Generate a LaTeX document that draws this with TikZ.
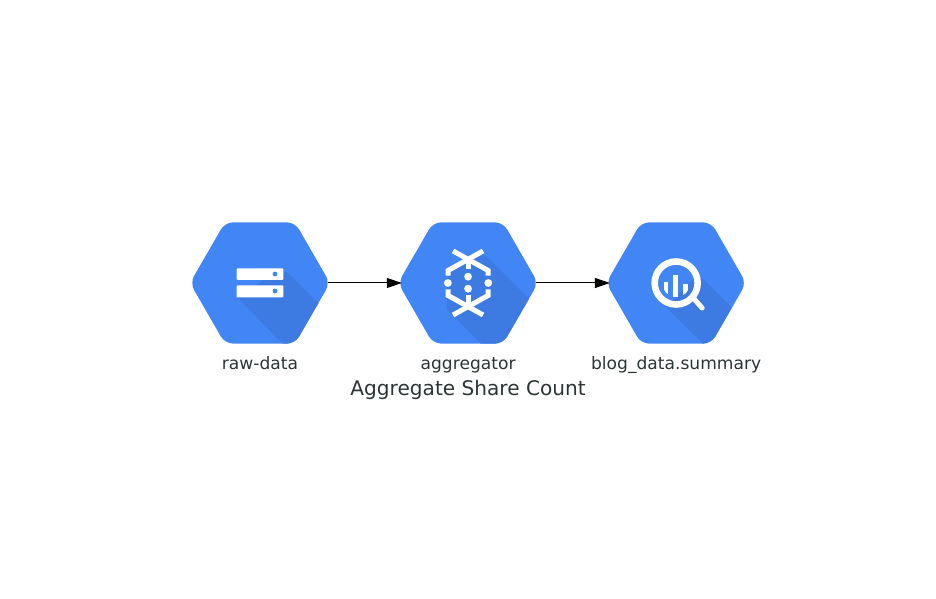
\documentclass[tikz,border=0pt]{standalone}
\usepackage{fontspec}
\setmainfont{DejaVu Sans}
\usetikzlibrary{positioning, shapes.geometric, graphs, arrows.meta}
\definecolor{hexblue}{HTML}{4285F4}
\definecolor{hexshade}{HTML}{3D7BE3}
\definecolor{textgray}{HTML}{2D3436}
\tikzset{
    hexnode/.style={regular polygon, regular polygon sides=6,
        minimum size=140pt, inner sep=0pt, fill=hexblue, rounded corners=8pt,
        path picture={\fill[hexshade, shift={(path picture bounding box.center)}] #1;}},
    hexlabel/.style={font=\fontsize{17.1}{20}\selectfont, text=textgray, inner sep=0pt,
        text height=12.5pt, text depth=4pt},
    iconstroke/.style={draw=white, line width=5pt, line join=miter},
}
\begin{document}
\begin{tikzpicture}[x=1pt, y=1pt, node distance=67.6pt, >={Triangle[length=15pt, width=10pt]}]
    \useasboundingbox (0,0) rectangle (936,599);

    \node[hexnode={(-23,-14) -- (23,15) -- (80,-42) -- (90,-90) -- (52,-90) -- (-23,-14)}] at (260,316) (raw) {};
    \node[hexnode={(-21,-27) -- (-21,10) -- (14,31) -- (80,-35) -- (90,-90) -- (42,-90) -- (-21,-27)}, right=of raw] (agg) {};
    \node[hexnode={(-10,-24) -- (22,9) -- (80,-49) -- (90,-90) -- (56,-90) -- (-10,-24)}, right=of agg] (summary) {};

    \node[hexlabel, below=12.5pt of raw]     (raw label)     {raw-data};
    \node[hexlabel, below=12.5pt of agg]     (agg label)     {aggregator};
    \node[hexlabel, below=12.5pt of summary] (summary label) {blog\_data.summary};
    \node[font=\fontsize{20.1}{24}\selectfont, text=textgray, inner sep=0pt, below=7pt of agg label] (title) {Aggregate Share Count};

    \begin{scope}[shift={(raw.center)}]
        \fill[white, rounded corners=0.8pt] (-23.3,3) rectangle (23.3,14.7);
        \fill[white, rounded corners=0.8pt] (-23.3,-14.3) rectangle (23.3,-2.3);
        \fill[hexblue] (15,9) circle (2.4) (15,-8) circle (2.4);
    \end{scope}

    \begin{scope}[shift={(agg.center)}]
        \draw[iconstroke] (15,32) -- (-20,12.5) -- (-20,7.3);
        \draw[iconstroke] (-15,32) -- (20,12.5) -- (20,7.3);
        \draw[iconstroke] (15,-32) -- (-20,-12.5) -- (-20,-6.5);
        \draw[iconstroke] (-15,-32) -- (20,-12.5) -- (20,-6.5);
        \draw[iconstroke] (0,25) -- (0,14);
        \draw[iconstroke] (0,-25) -- (0,-12);
        \fill[white] (0,6.3) circle (3.9) (0,-5.7) circle (3.9) (-20.2,0) circle (3.9) (20.2,0) circle (3.9);
    \end{scope}

    \begin{scope}[shift={(summary.center)}]
        \draw[white, line width=6.6pt] (0,0) circle (21.5);
        \draw[white, line width=5pt, line cap=round] (18,-16) -- (26,-25);
        \begin{scope}
            \clip (0,0) circle (14);
            \fill[white] (-12.3,1) rectangle (-7.7,-14);
            \fill[white] (-3,8) rectangle (2.3,-14);
            \fill[white] (6.6,-1.3) rectangle (11.6,-14);
        \end{scope}
    \end{scope}

    \graph[edges={line width=1pt, shorten <=-2pt, shorten >=-4pt}]{
        (raw) -> (agg) -> (summary);
    };
\end{tikzpicture}
\end{document}
